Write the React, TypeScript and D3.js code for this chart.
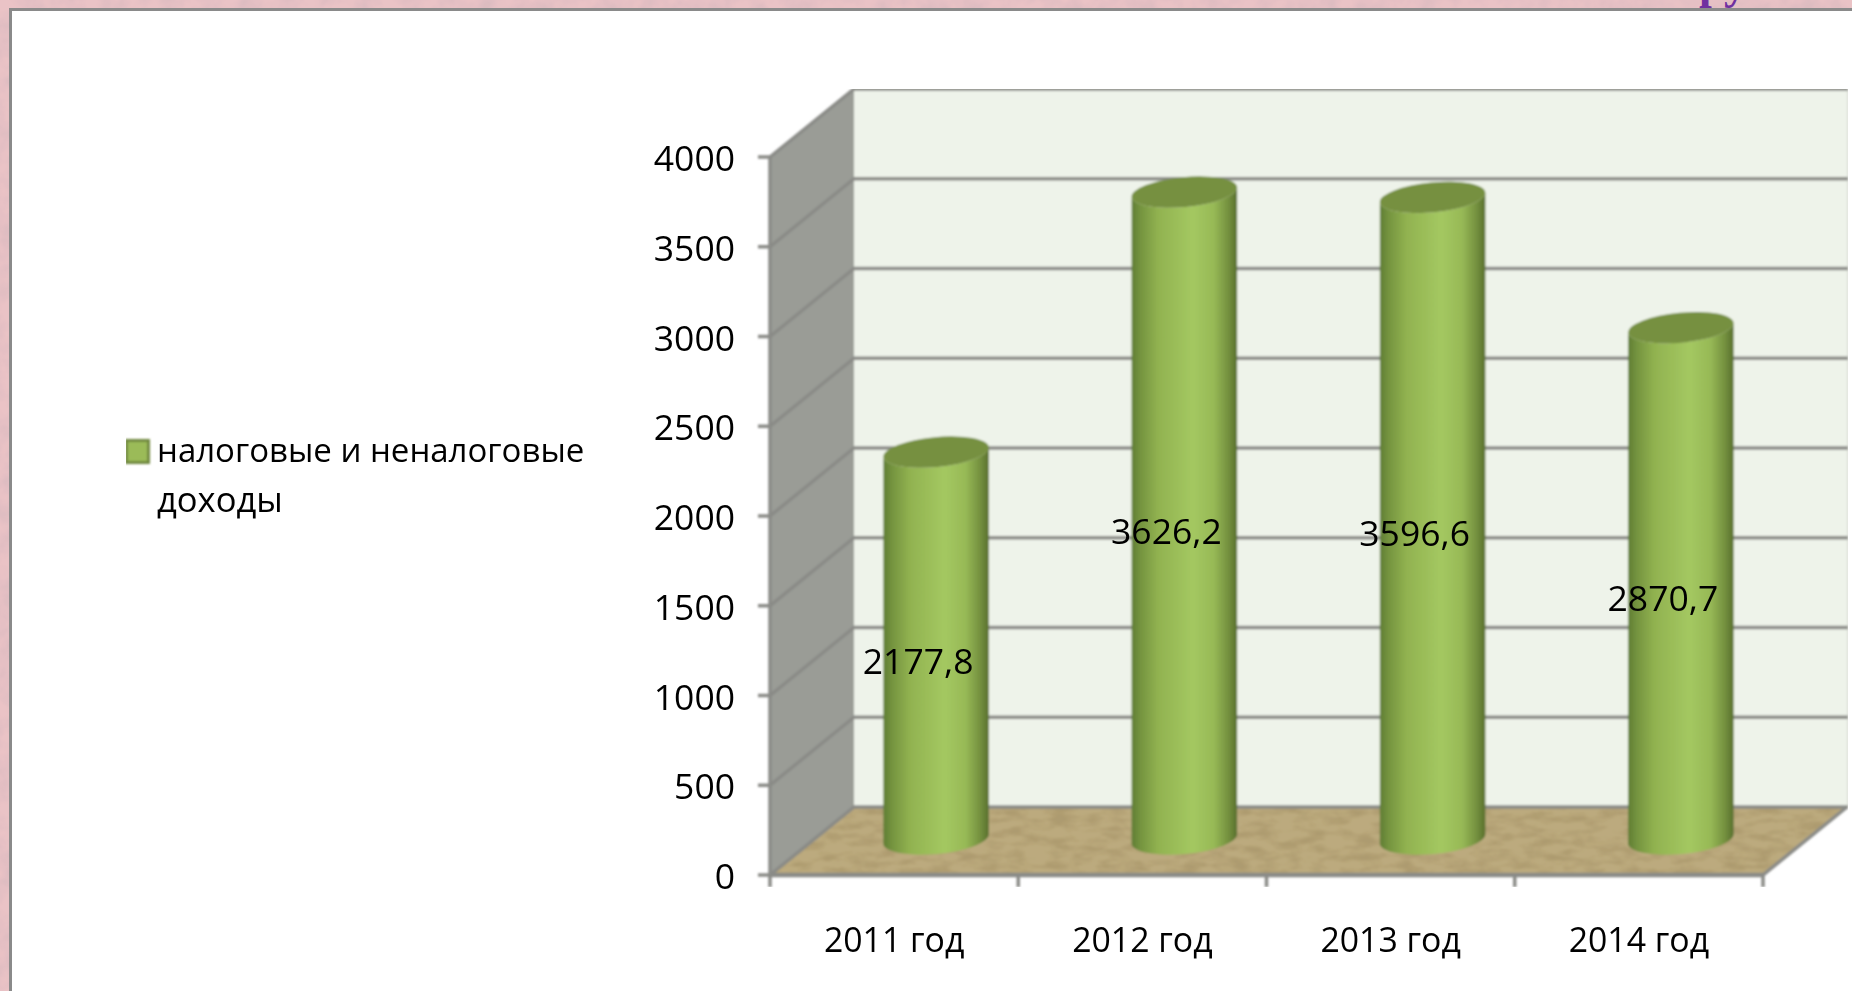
import React from "react";
import * as d3 from "d3";

const categories = ["2011 год", "2012 год", "2013 год", "2014 год"];
const values = [2177.8, 3626.2, 3596.6, 2870.7];
const yTicks = [0, 500, 1000, 1500, 2000, 2500, 3000, 3500, 4000];
const legendLines = ["налоговые и неналоговые", "доходы"];

const W = 1852, H = 991;
const FONT = "'Open Sans', sans-serif";
const DX = 84, DY = -68;

const x = d3.scaleBand<string>().domain(categories).range([770, 1763]);
const y = d3.scaleLinear().domain([0, 4000]).range([875, 157]);
const xEdges = [...categories.map((c) => x(c) as number), 1763];

const RX = 53, RY = 15, TILT = -5.4;
const rad = (TILT * Math.PI) / 180;
const ex = RX * Math.cos(rad), ey = RX * Math.sin(rad);

function cylinderSide(cx: number, top: number, bot: number) {
  return `M${cx - ex},${top - ey} L${cx - ex},${bot - ey} A${RX},${RY} ${TILT} 0 0 ${cx + ex},${bot + ey} L${cx + ex},${top + ey} A${RX},${RY} ${TILT} 0 1 ${cx - ex},${top - ey} Z`;
}

const GRID = "#8a8b87";
const TEXT = "#000000";

export default function App() {
  const floor = d3.line()([
    [x.range()[0], y(0)],
    [x.range()[1], y(0)],
    [x.range()[1] + DX, y(0) + DY],
    [x.range()[0] + DX, y(0) + DY],
  ]) + "Z";
  const wall = d3.line()([
    [770, y(0)],
    [770, y(4000)],
    [770 + DX, y(4000) + DY],
    [770 + DX, y(0) + DY],
  ]) + "Z";
  return (
    <svg width={W} height={H} viewBox={`0 0 ${W} ${H}`} style={{ position: "absolute", left: 0, top: 0, display: "block" }}>
      <defs>
        <linearGradient id="cyl" x1="0" x2="1" y1="0" y2="0">
          <stop offset="0" stopColor="#5f7d33" />
          <stop offset="0.08" stopColor="#74933f" />
          <stop offset="0.25" stopColor="#91b250" />
          <stop offset="0.58" stopColor="#a4c861" />
          <stop offset="0.78" stopColor="#97b956" />
          <stop offset="0.92" stopColor="#738f3e" />
          <stop offset="1" stopColor="#586f2d" />
        </linearGradient>
        <filter id="soft" x="0" y="0" width="100%" height="100%">
          <feGaussianBlur stdDeviation="0.9" />
        </filter>
        <filter id="softText" x="-5%" y="-5%" width="110%" height="110%">
          <feGaussianBlur stdDeviation="0.45" />
        </filter>
        <filter id="floorTex" x="0" y="0" width="100%" height="100%">
          <feTurbulence type="fractalNoise" baseFrequency="0.04 0.13" numOctaves={4} seed={4} result="n" />
          <feColorMatrix in="n" type="matrix" values="0 0 0 0 0.42  0 0 0 0 0.33  0 0 0 0 0.16  3 0 0 0 -1.2" result="c" />
          <feComposite in="c" in2="SourceGraphic" operator="in" result="t" />
          <feMerge>
            <feMergeNode in="SourceGraphic" />
            <feMergeNode in="t" />
          </feMerge>
        </filter>
        <filter id="pinkTex" x="0" y="0" width="100%" height="100%">
          <feTurbulence type="fractalNoise" baseFrequency="0.05" numOctaves={3} seed={9} result="n" />
          <feColorMatrix in="n" type="matrix" values="0 0 0 0 0.72  0 0 0 0 0.5  0 0 0 0 0.53  2 0 0 0 -0.7" result="c" />
          <feComposite in="c" in2="SourceGraphic" operator="in" result="t" />
          <feMerge>
            <feMergeNode in="SourceGraphic" />
            <feMergeNode in="t" />
          </feMerge>
        </filter>
      </defs>

      <rect x={0} y={0} width={W} height={H} fill="#eac3c6" filter="url(#pinkTex)" />
      <text x={1699} y={-2} fontFamily="'Liberation Serif', serif" fontWeight="bold" fontSize={46} fill="#7030a0">ру</text>
      <rect x={10.5} y={9.5} width={W} height={H} fill="#ffffff" stroke="#8a8a8a" strokeWidth={3} />

      <g filter="url(#soft)">
        <path d={wall} fill="#9a9c96" />
        <rect x={854} y={y(4000) + DY} width={994} height={718} fill="#eef3ea" />
        <line x1={1848} x2={1848} y1={y(4000) + DY} y2={y(0) + DY} stroke="#dcdfd8" strokeWidth={2} />
        <path d={floor} fill="#bcaa7e" filter="url(#floorTex)" />

        {yTicks.map((t) => (
          <g key={t} stroke={GRID} strokeWidth={3.5} fill="none">
            <path d={`M758,${y(t)} L770,${y(t)} L${770 + DX},${y(t) + DY} L${1848},${y(t) + DY}`} />
          </g>
        ))}
        <line x1={770} x2={770} y1={y(4000)} y2={y(0)} stroke={GRID} strokeWidth={3.5} />
        <line x1={1763} x2={1763 + DX} y1={y(0)} y2={y(0) + DY} stroke={GRID} strokeWidth={3.5} />
        <line x1={770} x2={1763} y1={y(0)} y2={y(0)} stroke={GRID} strokeWidth={4.5} />
        {xEdges.map((e) => (
          <line key={e} x1={e} x2={e} y1={y(0)} y2={y(0) + 12} stroke={GRID} strokeWidth={3.5} />
        ))}

        {categories.map((c, i) => {
          const cx = (x(c) as number) + x.bandwidth() / 2 + DX / 2;
          const bot = y(0) - 36;
          const top = y(values[i]) - 32;
          return (
            <g key={c}>
              <path d={cylinderSide(cx, top, bot)} fill="url(#cyl)" />
              <ellipse cx={cx} cy={top} rx={RX} ry={RY} transform={`rotate(${TILT} ${cx} ${top})`} fill="#76903f" />
            </g>
          );
        })}
        <rect x={126.5} y={440.5} width={22} height={22} fill="#9bbb59" stroke="#71893f" strokeWidth={3} />
      </g>

      <g fontFamily={FONT} fill={TEXT} filter="url(#softText)">
        {yTicks.map((t) => (
          <text key={t} x={735} y={y(t)} fontSize={35.5} textAnchor="end" dominantBaseline="central">{t}</text>
        ))}
        {categories.map((c) => (
          <text key={c} x={(x(c) as number) + x.bandwidth() / 2} y={952} fontSize={33.8} textAnchor="middle">{c}</text>
        ))}
        {categories.map((c, i) => (
          <text key={c} x={(x(c) as number) + x.bandwidth() / 2 + 24} y={(y(values[i]) + y(0)) / 2 - 6}
            fontSize={35.5} textAnchor="middle">{values[i].toFixed(1).replace(".", ",")}</text>
        ))}
        <text x={157} y={462} fontSize={33}>{legendLines[0]}</text>
        <text x={157} y={512} fontSize={34.5}>{legendLines[1]}</text>
      </g>
    </svg>
  );
}
